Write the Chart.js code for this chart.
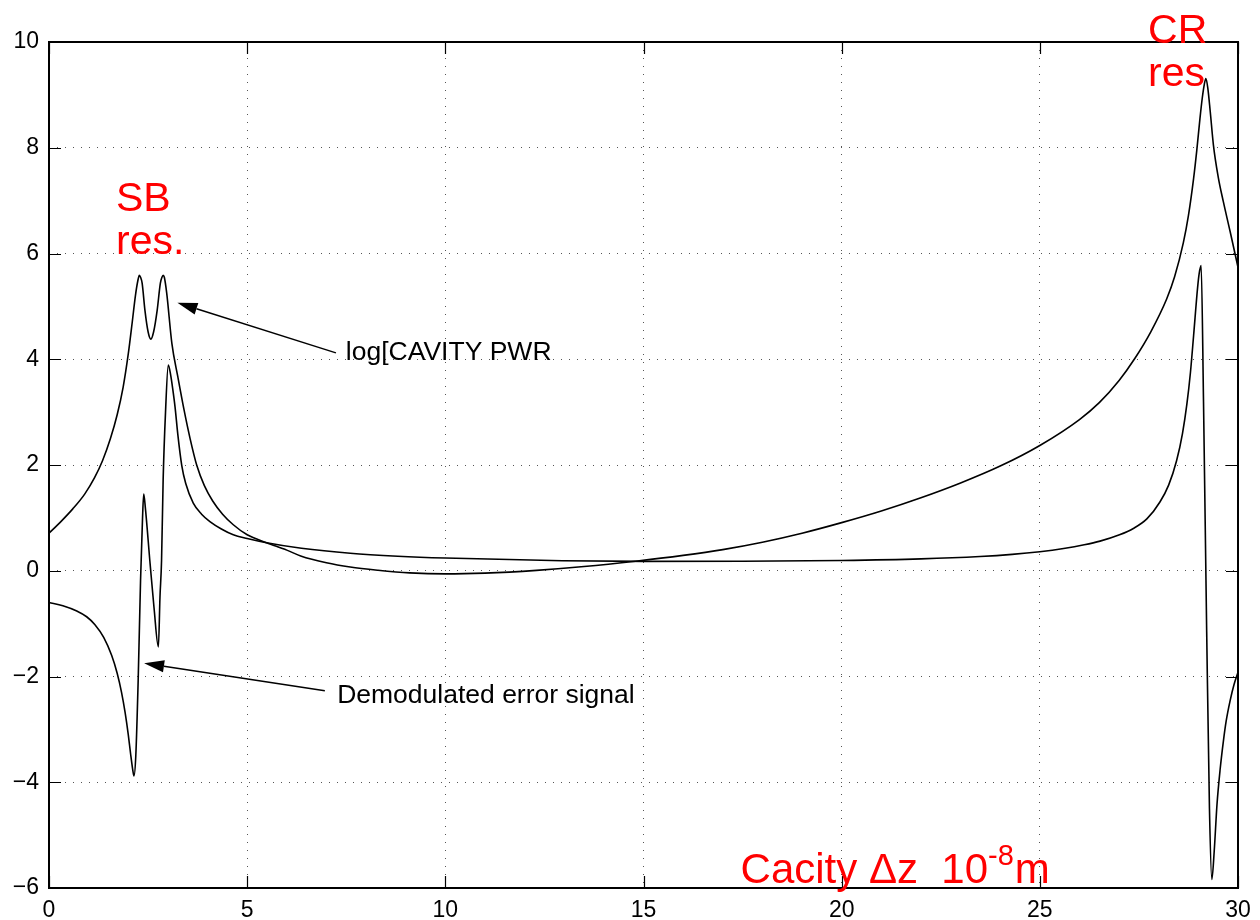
<!DOCTYPE html>
<html>
<head>
<meta charset="utf-8">
<script src="https://cdn.jsdelivr.net/npm/chart.js@4.4.1/dist/chart.umd.min.js"></script>
<style>
  html, body { margin: 0; padding: 0; background: #fff; }
  #wrap { width: 1260px; height: 920px; }
</style>
</head>
<body>
<div id="wrap"><canvas id="chart" width="1260" height="920"></canvas></div>
<script>
// ---------- DATA ----------
const xTickValues = [0, 5, 10, 15, 20, 25, 30];
const yTickValues = [-6, -4, -2, 0, 2, 4, 6, 8, 10];

// log[cavity power] vs cavity length change (1e-8 m)
const powerX = [0, 0.3, 0.6, 0.9, 1.15, 1.35, 1.55, 1.72, 1.87, 2.0, 2.1, 2.18, 2.24, 2.28, 2.31, 2.35,
  2.42, 2.5, 2.57, 2.64, 2.73, 2.81, 2.85, 2.88, 2.91, 2.97, 3.1, 3.25, 3.4, 3.56, 3.73, 3.92, 4.13, 4.38, 4.65,
  5.0, 5.49, 6.0, 6.35, 7.0, 7.6, 8.3, 9.1, 10, 11, 12.3, 13.5, 14.8, 16, 17, 18, 19, 20, 21, 22, 23, 24,
  25, 26, 26.5, 27, 27.4, 27.8, 28.2, 28.4, 28.62, 28.75, 28.88, 28.96, 29.04, 29.1, 29.15, 29.19, 29.24, 29.3,
  29.38, 29.5, 29.63, 29.8, 30];
const powerY = [0.71, 0.93, 1.17, 1.45, 1.76, 2.08, 2.5, 2.95, 3.47, 4.1, 4.7, 5.2, 5.48, 5.59, 5.55, 5.44,
  4.93, 4.52, 4.38, 4.52, 4.93, 5.44, 5.55, 5.59, 5.55, 5.25, 4.3, 3.67, 3.07, 2.5, 1.99, 1.61, 1.32, 1.07, 0.87,
  0.68, 0.53, 0.39, 0.28, 0.15, 0.07, 0.01, -0.04, -0.06, -0.045, 0.007, 0.079, 0.18, 0.29, 0.4, 0.54, 0.71, 0.91, 1.13, 1.38, 1.66, 1.98,
  2.37, 2.86, 3.18, 3.6, 4.02, 4.52, 5.14, 5.56, 6.2, 6.72, 7.42, 7.95, 8.55, 8.95, 9.2, 9.31, 9.12, 8.68,
  8.05, 7.45, 6.98, 6.42, 5.74];

// demodulated error signal
const errorX = [0, 0.35, 0.7, 0.95, 1.16, 1.38, 1.58, 1.72, 1.83, 1.92, 2.0, 2.06, 2.11, 2.145, 2.19, 2.25, 2.31,
  2.36, 2.39, 2.43, 2.55, 2.65, 2.76, 2.8, 2.84, 2.88, 2.94, 3.01, 3.07, 3.12, 3.18, 3.25, 3.35, 3.45, 3.64, 3.85,
  4.06, 4.35, 4.65, 5.0, 5.49, 6.37, 7.6, 8.8, 10, 12.95, 15, 17.5, 20, 22, 23.49, 24.3, 25, 25.6, 26.12, 26.52, 27.01,
  27.36, 27.7, 28.03, 28.25, 28.45, 28.6, 28.71, 28.8, 28.88, 28.98, 29.02, 29.07, 29.13, 29.21, 29.28, 29.34,
  29.4, 29.47, 29.55, 29.63, 29.7, 29.8, 29.9, 30];
const errorY = [-0.6, -0.66, -0.76, -0.87, -1.02, -1.26, -1.6, -1.94, -2.3, -2.68, -3.1, -3.47, -3.75, -3.88, -3.5,
  -2.07, -0.18, 1.0, 1.45, 1.2, 0.14, -0.7, -1.44, -0.5, 0.2, 1.72, 3.0, 3.89, 3.7, 3.45, 3.1, 2.58, 1.99, 1.65,
  1.28, 1.07, 0.93, 0.79, 0.68, 0.61, 0.53, 0.425, 0.33, 0.275, 0.24, 0.19, 0.178, 0.18, 0.195, 0.225, 0.27, 0.31, 0.36,
  0.42, 0.49, 0.56, 0.68, 0.8, 0.98, 1.3, 1.62, 2.08, 2.6, 3.15, 3.75, 4.45, 5.35, 5.62, 5.77, 3.19, -1.16, -4.5,
  -5.84, -5.3, -4.42, -3.75, -3.23, -2.85, -2.46, -2.15, -1.92];

// ---------- ANNOTATIONS (data coords) ----------
const FONT = '"Liberation Sans", Arial, Helvetica, sans-serif';
const redLabels = [
  { text: 'SB', x: 1.69, y: 6.81 },
  { text: 'res.', x: 1.69, y: 6.0 },
  { text: 'CR', x: 27.73, y: 9.98 },
  { text: 'res', x: 27.73, y: 9.17 }
];
const arrows = [
  { text: 'log[CAVITY PWR', tx: 7.49, ty: 3.99, x0: 7.24, y0: 4.12, x1: 3.24, y1: 5.07 },
  { text: 'Demodulated error signal', tx: 7.27, ty: -2.5, x0: 6.96, y0: -2.27, x1: 2.4, y1: -1.75 }
];
const xLabelAnchor = { x: 17.45, y: -5.91 };

function toPoints(xs, ys) {
  return xs.map((v, i) => ({ x: v, y: ys[i] }));
}

const decorations = {
  id: 'decorations',
  afterDatasetsDraw(chart) {
    const { ctx, chartArea: a, scales: { x, y } } = chart;
    ctx.save();

    // inward ticks on all four sides
    ctx.strokeStyle = '#000';
    ctx.lineWidth = 1.2;
    ctx.beginPath();
    xTickValues.forEach(v => {
      const px = Math.round(x.getPixelForValue(v)) + 0.5;
      ctx.moveTo(px, a.bottom); ctx.lineTo(px, a.bottom - 12);
      ctx.moveTo(px, a.top); ctx.lineTo(px, a.top + 12);
    });
    yTickValues.forEach(v => {
      const py = Math.round(y.getPixelForValue(v)) + 0.5;
      ctx.moveTo(a.left, py); ctx.lineTo(a.left + 12, py);
      ctx.moveTo(a.right, py); ctx.lineTo(a.right - 12, py);
    });
    ctx.stroke();

    // axes box
    ctx.lineWidth = 2;
    ctx.strokeRect(a.left, a.top, a.right - a.left, a.bottom - a.top);

    // arrows + black labels
    ctx.fillStyle = '#000';
    ctx.font = '26.5px ' + FONT;
    ctx.textBaseline = 'alphabetic';
    arrows.forEach(ar => {
      const sx = x.getPixelForValue(ar.x0), sy = y.getPixelForValue(ar.y0);
      const ex = x.getPixelForValue(ar.x1), ey = y.getPixelForValue(ar.y1);
      const ang = Math.atan2(ey - sy, ex - sx);
      const len = 20, half = 6;
      const bx = ex - len * Math.cos(ang), by = ey - len * Math.sin(ang);
      ctx.lineWidth = 1.4;
      ctx.beginPath();
      ctx.moveTo(sx, sy);
      ctx.lineTo(bx, by);
      ctx.stroke();
      ctx.beginPath();
      ctx.moveTo(ex, ey);
      ctx.lineTo(bx + half * Math.sin(ang), by - half * Math.cos(ang));
      ctx.lineTo(bx - half * Math.sin(ang), by + half * Math.cos(ang));
      ctx.closePath();
      ctx.fill();
      ctx.fillText(ar.text, x.getPixelForValue(ar.tx), y.getPixelForValue(ar.ty));
    });

    // red labels
    ctx.fillStyle = '#ff0000';
    ctx.font = '41px ' + FONT;
    redLabels.forEach(l => {
      ctx.fillText(l.text, x.getPixelForValue(l.x), y.getPixelForValue(l.y));
    });

    // x label with superscript
    let lx = x.getPixelForValue(xLabelAnchor.x);
    const ly = y.getPixelForValue(xLabelAnchor.y);
    const main = 'Cacity \u0394z  10';
    ctx.font = '42px ' + FONT;
    ctx.fillText(main, lx, ly);
    lx += ctx.measureText(main).width;
    ctx.font = '29px ' + FONT;
    ctx.fillText('-8', lx, ly - 18);
    lx += ctx.measureText('-8').width + 1;
    ctx.font = '42px ' + FONT;
    ctx.fillText('m', lx, ly);

    ctx.restore();
  }
};

const gridStyle = { color: '#555', lineWidth: 1, drawTicks: false };

new Chart(document.getElementById('chart'), {
  type: 'line',
  data: {
    datasets: [
      { data: toPoints(powerX, powerY), borderColor: '#000', borderWidth: 1.6, pointRadius: 0, cubicInterpolationMode: 'monotone', fill: false },
      { data: toPoints(errorX, errorY), borderColor: '#000', borderWidth: 1.6, pointRadius: 0, cubicInterpolationMode: 'monotone', fill: false }
    ]
  },
  options: {
    responsive: false,
    animation: false,
    events: [],
    layout: { padding: { top: 42, right: 22, bottom: 0, left: 0 } },
    plugins: { legend: { display: false }, tooltip: { enabled: false } },
    scales: {
      x: {
        type: 'linear', min: 0, max: 30,
        afterBuildTicks: s => { s.ticks = xTickValues.map(v => ({ value: v })); },
        afterFit: s => { s.height = 32; },
        ticks: { color: '#000', padding: 9, maxRotation: 0, font: { family: FONT, size: 23 } },
        grid: gridStyle,
        border: { display: false, dash: [1, 7] }
      },
      y: {
        type: 'linear', min: -6, max: 10,
        afterBuildTicks: s => { s.ticks = yTickValues.map(v => ({ value: v })); },
        afterFit: s => { s.width = 49; },
        ticks: { color: '#000', padding: 10, font: { family: FONT, size: 23 },
          callback: v => String(v).replace('-', '\u2212') },
        grid: gridStyle,
        border: { display: false, dash: [1, 7] }
      }
    }
  },
  plugins: [decorations]
});
</script>
</body>
</html>
